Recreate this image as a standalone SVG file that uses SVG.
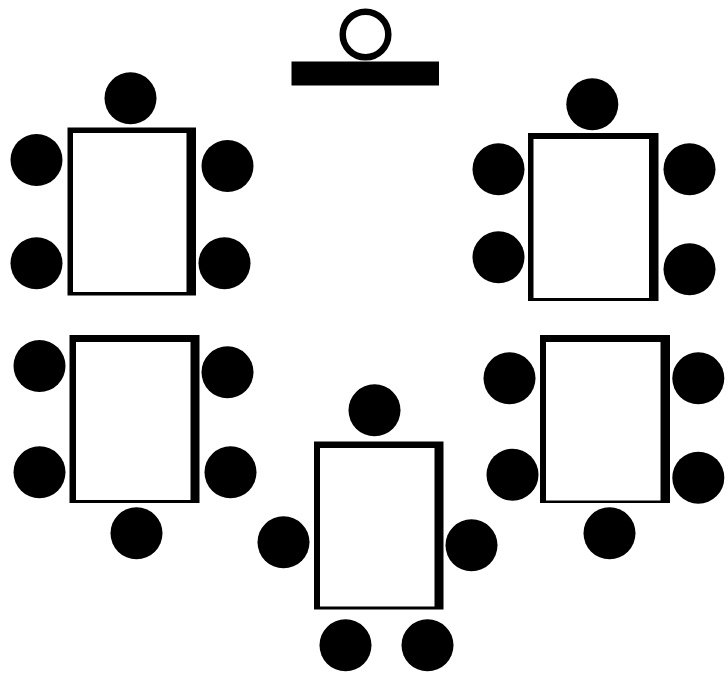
<svg xmlns="http://www.w3.org/2000/svg" width="728" height="673" viewBox="0 0 728 673">
<style>.f{fill:#000}.w{fill:#fff}circle{fill:#000}#lectern circle{fill:#fff;stroke:#000;stroke-width:6.500}</style>
<rect width="728" height="673" fill="#fff"/>
<g id="lectern"><circle cx="365.500" cy="34.500" r="22.800"/><rect x="291.500" y="61.500" width="147.500" height="24" class="f"/></g>
<g id="table-1"><rect x="67.500" y="127.500" width="128.500" height="168" class="f"/><rect x="73" y="133" width="113.500" height="159" class="w"/>
<circle cx="130.500" cy="98.300" r="26"/><circle cx="36.500" cy="160" r="26"/><circle cx="227.500" cy="166" r="26"/><circle cx="36.500" cy="263.300" r="26"/><circle cx="224.500" cy="263.300" r="26"/></g>
<g id="table-2"><rect x="528" y="133" width="130.500" height="168" class="f"/><rect x="533.500" y="139" width="115.500" height="159" class="w"/>
<circle cx="592.300" cy="104.300" r="26"/><circle cx="498.500" cy="169.300" r="26"/><circle cx="689.500" cy="169.300" r="26"/><circle cx="498.500" cy="257.300" r="26"/><circle cx="689.500" cy="269.300" r="26"/></g>
<g id="table-3"><rect x="69.500" y="335" width="130" height="168" class="f"/><rect x="76" y="342" width="114.500" height="158" class="w"/>
<circle cx="39.500" cy="366" r="26"/><circle cx="227.500" cy="372.300" r="26"/><circle cx="39.500" cy="472.300" r="26"/><circle cx="230.500" cy="472.300" r="26"/><circle cx="136.500" cy="533.300" r="26"/></g>
<g id="table-4"><rect x="540" y="335" width="130" height="168" class="f"/><rect x="546" y="342" width="114.500" height="158.500" class="w"/>
<circle cx="509.500" cy="378.300" r="26"/><circle cx="698.300" cy="378.300" r="26"/><circle cx="512.500" cy="474.700" r="26"/><circle cx="698.300" cy="477.700" r="26"/><circle cx="609.500" cy="533.300" r="26"/></g>
<g id="table-5"><rect x="314" y="441.500" width="129.500" height="168" class="f"/><rect x="320" y="448" width="114.500" height="158.500" class="w"/>
<circle cx="374.500" cy="410.300" r="26"/><circle cx="283.500" cy="542.300" r="26"/><circle cx="471.500" cy="545.300" r="26"/><circle cx="345.500" cy="645.300" r="26"/><circle cx="427.500" cy="645.300" r="26"/></g>
<g id="connectors"/>
</svg>
